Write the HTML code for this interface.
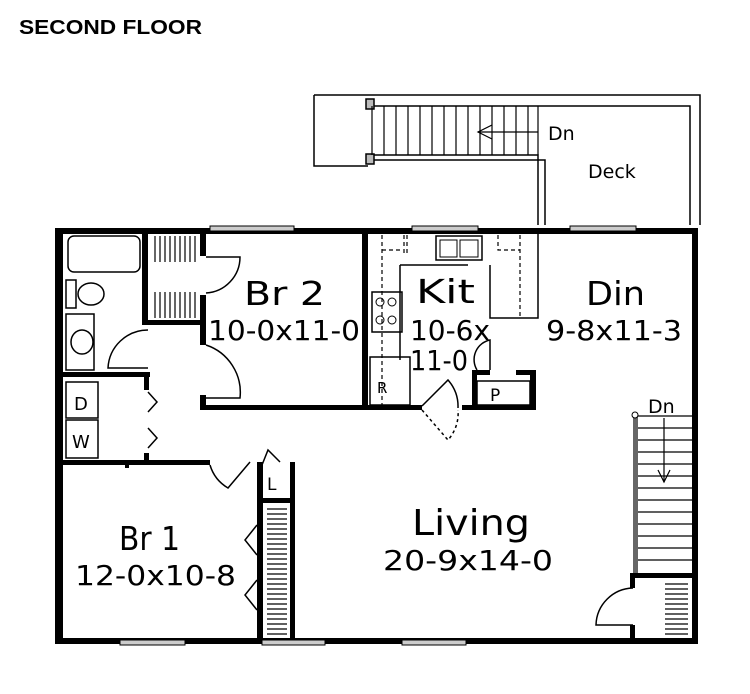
<!DOCTYPE html>
<html><head><meta charset="utf-8"><style>
html,body{margin:0;padding:0;background:#fff;width:750px;height:694px;overflow:hidden}
svg{display:block}
text{font-family:"DejaVu Sans","Liberation Sans",sans-serif;fill:#000}
</style></head><body>
<svg width="750" height="694" viewBox="0 0 750 694" xmlns="http://www.w3.org/2000/svg">
<text x="19" y="34" style="font-family:'Liberation Sans',sans-serif;font-weight:bold;font-size:20px" textLength="183" lengthAdjust="spacingAndGlyphs">SECOND FLOOR</text>

<!-- Deck -->
<g fill="none" stroke="#000" stroke-width="1.5">
<path d="M314 95 H368 M314 95 V166 H368"/>
<path d="M368 95 H700 V225 M368 106 H690 V225"/>
<path d="M368 155 H538 V225 M368 160 H545 V225"/>
<rect x="366" y="99" width="8" height="10" fill="#bbb"/>
<rect x="366" y="154" width="8" height="10" fill="#bbb"/>
</g>
<g stroke="#000" stroke-width="1.2">
<line x1="372" y1="106" x2="372" y2="155"/><line x1="384" y1="106" x2="384" y2="155"/><line x1="396" y1="106" x2="396" y2="155"/><line x1="408" y1="106" x2="408" y2="155"/><line x1="420" y1="106" x2="420" y2="155"/><line x1="432" y1="106" x2="432" y2="155"/><line x1="444" y1="106" x2="444" y2="155"/><line x1="456" y1="106" x2="456" y2="155"/><line x1="468" y1="106" x2="468" y2="155"/><line x1="480" y1="106" x2="480" y2="155"/><line x1="492" y1="106" x2="492" y2="155"/><line x1="504" y1="106" x2="504" y2="155"/><line x1="516" y1="106" x2="516" y2="155"/><line x1="528" y1="106" x2="528" y2="155"/><line x1="538" y1="106" x2="538" y2="155"/>
<line x1="478" y1="132" x2="538" y2="132"/>
<polyline points="492,125 478,132 492,139" fill="none"/>
</g>
<text x="548" y="140" font-size="19">Dn</text>
<text x="588" y="178" font-size="19">Deck</text>

<!-- outer walls -->
<g fill="#000">
<rect x="55" y="228" width="643" height="6"/>
<rect x="55" y="638" width="643" height="6"/>
<rect x="55" y="228" width="8" height="416"/>
<rect x="692" y="228" width="6" height="416"/>
<rect x="142" y="228" width="6" height="97"/>
<rect x="142" y="320" width="64" height="5"/>
<rect x="200" y="228" width="6" height="28"/>
<rect x="200" y="295" width="6" height="50"/>
<rect x="200" y="395" width="6" height="15"/>
<rect x="200" y="405" width="168" height="5"/>
<rect x="362" y="228" width="6" height="182"/>
<rect x="55" y="372" width="95" height="5"/>
<rect x="144" y="372" width="5" height="18"/>
<rect x="144" y="453" width="5" height="10"/>
<rect x="55" y="460" width="155" height="5"/>
<rect x="125" y="460" width="4" height="8"/>
<rect x="257" y="465" width="6" height="175"/>
<rect x="257" y="498" width="38" height="5"/>
<rect x="290" y="462" width="5" height="178"/>
<rect x="257" y="462" width="6" height="40"/>
<rect x="368" y="405" width="54" height="5"/>
<rect x="462" y="405" width="74" height="5"/>
<rect x="472" y="370" width="5" height="40"/>
<rect x="530" y="370" width="6" height="40"/>
<rect x="472" y="370" width="18" height="5"/>
<rect x="516" y="370" width="20" height="5"/>
<rect x="630" y="573" width="62" height="5"/>
<rect x="630" y="573" width="5" height="15"/>
<rect x="630" y="625" width="5" height="15"/>
</g>

<!-- windows -->
<g fill="#ccc" stroke="#000" stroke-width="1">
<rect x="210" y="226" width="84" height="5"/>
<rect x="412" y="226" width="66" height="5"/>
<rect x="570" y="226" width="66" height="5"/>
<rect x="120" y="640" width="65" height="5"/>
<rect x="262" y="640" width="63" height="5"/>
<rect x="402" y="640" width="64" height="5"/>
</g>

<g fill="none" stroke="#000" stroke-width="1.5">
<rect x="68" y="236" width="72" height="36" rx="6"/>
<rect x="66" y="280" width="10" height="28"/>
<ellipse cx="91" cy="294" rx="13" ry="11"/>
<rect x="66" y="314" width="28" height="56"/>
<ellipse cx="82" cy="342" rx="11" ry="12"/>
<path d="M206 257 H240 A36 36 0 0 1 206 293"/>
<path d="M148 330 A40 40 0 0 0 108 368 H148"/>
<path d="M206 345 A50 50 0 0 1 240 398 H206"/>
<rect x="66" y="382" width="32" height="36"/><rect x="66" y="420" width="32" height="38"/>
<polyline points="148,392 157,402 148,412"/>
<polyline points="148,428 157,438 148,448"/>
<path d="M210 465 A40 40 0 0 0 228 488 L250 462"/>
<path d="M262 465 L268 450 L280 462"/>
<polyline points="257,525 245,540 257,555"/>
<polyline points="257,580 245,595 257,610"/>
<path d="M633 588 A38 38 0 0 0 596 625 H633"/>
<path d="M400 265 H468 M400 265 V360 M490 265 V318 H538 V232"/>
<rect x="372" y="292" width="30" height="40"/>
<rect x="436" y="236" width="46" height="24"/>
<rect x="370" y="357" width="40" height="48"/>
<path d="M490 370 V340 A20 20 0 0 0 477 370"/>
<rect x="477" y="381" width="53" height="24"/>
<path d="M422 406 L448 380 A40 40 0 0 1 458 408"/>
<path d="M422 410 L448 440 A40 40 0 0 0 458 410" stroke-dasharray="3 3"/>
<path d="M382 235 V405 M404 235 V255 M407 235 V255 M382 250 H400 M498 235 V250 H520 M520 235 V318" stroke-dasharray="4 3" stroke-width="1.2"/>
</g>
<g fill="none" stroke="#000" stroke-width="1">
<circle cx="380" cy="302" r="4"/><circle cx="392" cy="302" r="4"/><circle cx="380" cy="320" r="4"/><circle cx="392" cy="320" r="4"/>
<rect x="440" y="240" width="17" height="17"/><rect x="460" y="240" width="18" height="17"/>
</g>
<g stroke="#000" stroke-width="1.2">
<path d="M155 236 V262 M160 236 V262 M165 236 V262 M170 236 V262 M175 236 V262 M180 236 V262 M185 236 V262 M190 236 V262 M195 236 V262"/>
<path d="M155 292 V318 M160 292 V318 M165 292 V318 M170 292 V318 M175 292 V318 M180 292 V318 M185 292 V318 M190 292 V318 M195 292 V318"/>
<path d="M267 509 H287 M267 514 H287 M267 519 H287 M267 524 H287 M267 529 H287 M267 534 H287 M267 539 H287 M267 544 H287 M267 549 H287 M267 554 H287 M267 559 H287 M267 564 H287 M267 569 H287 M267 574 H287 M267 579 H287 M267 584 H287 M267 589 H287 M267 594 H287 M267 599 H287 M267 604 H287 M267 609 H287 M267 614 H287 M267 619 H287 M267 624 H287 M267 629 H287 M267 634 H287"/>
<path d="M665 584 H688 M665 589 H688 M665 594 H688 M665 599 H688 M665 604 H688 M665 609 H688 M665 614 H688 M665 619 H688 M665 624 H688 M665 629 H688 M665 634 H688"/>
</g>
<rect x="633" y="415" width="5" height="158" fill="#666"/>
<g stroke="#000" stroke-width="1.2">
<path d="M638 416 H692 M638 428 H692 M638 440 H692 M638 452 H692 M638 464 H692 M638 476 H692 M638 488 H692 M638 500 H692 M638 512 H692 M638 524 H692 M638 536 H692 M638 548 H692 M638 560 H692"/>
<line x1="664" y1="418" x2="664" y2="482"/>
<polyline points="658,470 664,482 670,470" fill="none"/>
</g>
<circle cx="635" cy="415" r="3" fill="#fff" stroke="#000"/>

<text x="244" y="305" font-size="33" textLength="81" lengthAdjust="spacingAndGlyphs">Br 2</text>
<text x="208" y="340" font-size="28" textLength="152" lengthAdjust="spacingAndGlyphs">10-0x11-0</text>
<text x="416" y="303" font-size="33" textLength="59" lengthAdjust="spacingAndGlyphs">Kit</text>
<text x="410" y="340" font-size="28" textLength="80" lengthAdjust="spacingAndGlyphs">10-6x</text>
<text x="410" y="370" font-size="28" textLength="58" lengthAdjust="spacingAndGlyphs">11-0</text>
<text x="586" y="305" font-size="33" textLength="59" lengthAdjust="spacingAndGlyphs">Din</text>
<text x="546" y="340" font-size="28" textLength="136" lengthAdjust="spacingAndGlyphs">9-8x11-3</text>
<text x="412" y="535" font-size="36" textLength="118" lengthAdjust="spacingAndGlyphs">Living</text>
<text x="383" y="570" font-size="28" textLength="170" lengthAdjust="spacingAndGlyphs">20-9x14-0</text>
<text x="119" y="550" font-size="33" textLength="61" lengthAdjust="spacingAndGlyphs">Br 1</text>
<text x="75" y="585" font-size="28" textLength="161" lengthAdjust="spacingAndGlyphs">12-0x10-8</text>
<text x="648" y="413" font-size="19">Dn</text>
<text x="490" y="401" font-size="17">P</text>
<text x="377" y="393" font-size="15">R</text>
<text x="267" y="490" font-size="17">L</text>
<text x="74" y="410" font-size="18">D</text>
<text x="72" y="448" font-size="18">W</text>
</svg>
</body></html>
